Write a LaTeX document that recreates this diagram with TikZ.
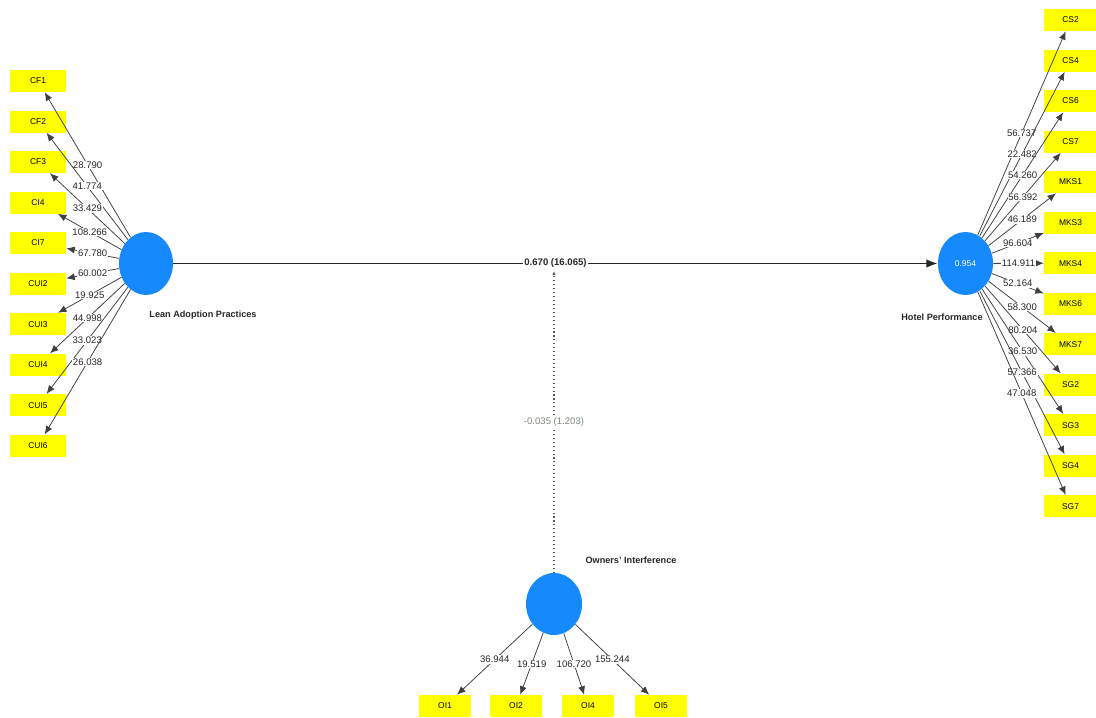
\documentclass[tikz,border=0pt]{standalone}
\usepackage{fontspec}
\setmainfont{Liberation Sans}
\usetikzlibrary{positioning,shapes.geometric,arrows.meta}
\definecolor{PLSYellow}{RGB}{255,255,0}
\definecolor{PLSBlue}{RGB}{22,138,252}
\definecolor{PLSGrey}{RGB}{125,140,125}

\begin{document}
\begin{tikzpicture}[node distance=1.013cm,
    ind/.style={rectangle, fill=PLSYellow, minimum width=1.4cm, minimum height=0.55cm, inner sep=0pt, font=\fontsize{6}{7}\selectfont},
    indr/.style={ind, minimum width=1.325cm},
    indb/.style={ind, minimum width=1.3cm},
    lv/.style={ellipse, fill=PLSBlue, minimum width=1.35cm, minimum height=1.575cm, inner sep=0pt},
    lvname/.style={font=\bfseries\fontsize{6.5}{8}\selectfont, text=black!85},
    load/.style={-{Latex[length=6pt,width=5pt]}, draw=black!75, line width=0.55pt},
    val/.style={fill=white, inner sep=0.5pt, font=\fontsize{6.8}{7}\selectfont, text=black!85}]
    \useasboundingbox (0,0) rectangle (27.4,17.925);

    % latent variables
    \node (LAP) [lv] at (3.65,11.3375) {};
    \node (HP) [lv, minimum width=1.375cm, text=white, font=\fontsize{6}{7}\selectfont] at (24.1375,11.3375) {0.954};
    \node (OI) [lv, minimum width=1.4cm, minimum height=1.55cm] at (13.85,2.825) {};
    \node (LAPname) [lvname] at (5.075,10.05) {Lean Adoption Practices};
    \node (HPname) [lvname] at (23.55,10.0) {Hotel Performance};
    \node (OIname) [lvname] at (15.775,3.925) {Owners' Interference};

    % Lean Adoption Practices indicators
    \node (CF1) [ind] at (0.95,15.9) {CF1};
    \node (CF2) [ind, below of=CF1] {CF2};
    \node (CF3) [ind, below of=CF2] {CF3};
    \node (CI4) [ind, below of=CF3] {CI4};
    \node (CI7) [ind, below of=CI4] {CI7};
    \node (CUI2) [ind, below of=CI7] {CUI2};
    \node (CUI3) [ind, below of=CUI2] {CUI3};
    \node (CUI4) [ind, below of=CUI3] {CUI4};
    \node (CUI5) [ind, below of=CUI4] {CUI5};
    \node (CUI6) [ind, below of=CUI5] {CUI6};

    % Hotel Performance indicators
    \node (CS2) [indr] at (26.7625,17.425) {CS2};
    \node (CS4) [indr, below of=CS2] {CS4};
    \node (CS6) [indr, below of=CS4] {CS6};
    \node (CS7) [indr, below of=CS6] {CS7};
    \node (MKS1) [indr, below of=CS7] {MKS1};
    \node (MKS3) [indr, below of=MKS1] {MKS3};
    \node (MKS4) [indr, below of=MKS3] {MKS4};
    \node (MKS6) [indr, below of=MKS4] {MKS6};
    \node (MKS7) [indr, below of=MKS6] {MKS7};
    \node (SG2) [indr, below of=MKS7] {SG2};
    \node (SG3) [indr, below of=SG2] {SG3};
    \node (SG4) [indr, below of=SG3] {SG4};
    \node (SG7) [indr, below of=SG4] {SG7};

    % Owners' Interference indicators
    \node (OI1) [indb] at (11.125,0.275) {OI1};
    \node (OI2) [indb] at (12.9,0.275) {OI2};
    \node (OI4) [indb] at (14.7,0.275) {OI4};
    \node (OI5) [indb] at (16.525,0.275) {OI5};

    % outer loadings
    \draw[load] (LAP) -- node[val] {28.790} (CF1);
    \draw[load] (LAP) -- node[val] {41.774} (CF2);
    \draw[load] (LAP) -- node[val] {33.429} (CF3);
    \draw[load] (LAP) -- node[val] {108.266} (CI4);
    \draw[load] (LAP) -- node[val] {67.780} (CI7);
    \draw[load] (LAP) -- node[val] {60.002} (CUI2);
    \draw[load] (LAP) -- node[val] {19.925} (CUI3);
    \draw[load] (LAP) -- node[val] {44.998} (CUI4);
    \draw[load] (LAP) -- node[val] {33.023} (CUI5);
    \draw[load] (LAP) -- node[val] {26.038} (CUI6);

    \draw[load] (HP) -- node[val] {56.737} (CS2);
    \draw[load] (HP) -- node[val] {22.482} (CS4);
    \draw[load] (HP) -- node[val] {54.260} (CS6);
    \draw[load] (HP) -- node[val] {56.392} (CS7);
    \draw[load] (HP) -- node[val] {46.189} (MKS1);
    \draw[load] (HP) -- node[val] {96.604} (MKS3);
    \draw[load] (HP) -- node[val] {114.911} (MKS4);
    \draw[load] (HP) -- node[val] {52.164} (MKS6);
    \draw[load] (HP) -- node[val] {58.300} (MKS7);
    \draw[load] (HP) -- node[val] {80.204} (SG2);
    \draw[load] (HP) -- node[val] {36.530} (SG3);
    \draw[load] (HP) -- node[val] {57.366} (SG4);
    \draw[load] (HP) -- node[val] {47.048} (SG7);

    \draw[load] (OI) -- node[val] {36.944} (OI1);
    \draw[load] (OI) -- node[val] {19.519} (OI2);
    \draw[load] (OI) -- node[val] {106.720} (OI4);
    \draw[load] (OI) -- node[val] {155.244} (OI5);

    % structural paths
    \draw[-{Latex[length=8pt,width=6pt]}, line width=1.4pt, draw=black!85] (LAP) -- node[val, font=\bfseries\fontsize{6.8}{7}\selectfont, inner sep=1pt] {0.670 (16.065)} (HP);
    \coordinate (ModEnd) at (13.85,11.15);
    \draw[dotted, draw=black!65, line width=0.8pt, -{Latex[length=3pt,width=2.5pt]}] (OI) -- node[val, text=PLSGrey] {-0.035 (1.203)} (ModEnd);
\end{tikzpicture}
\end{document}
